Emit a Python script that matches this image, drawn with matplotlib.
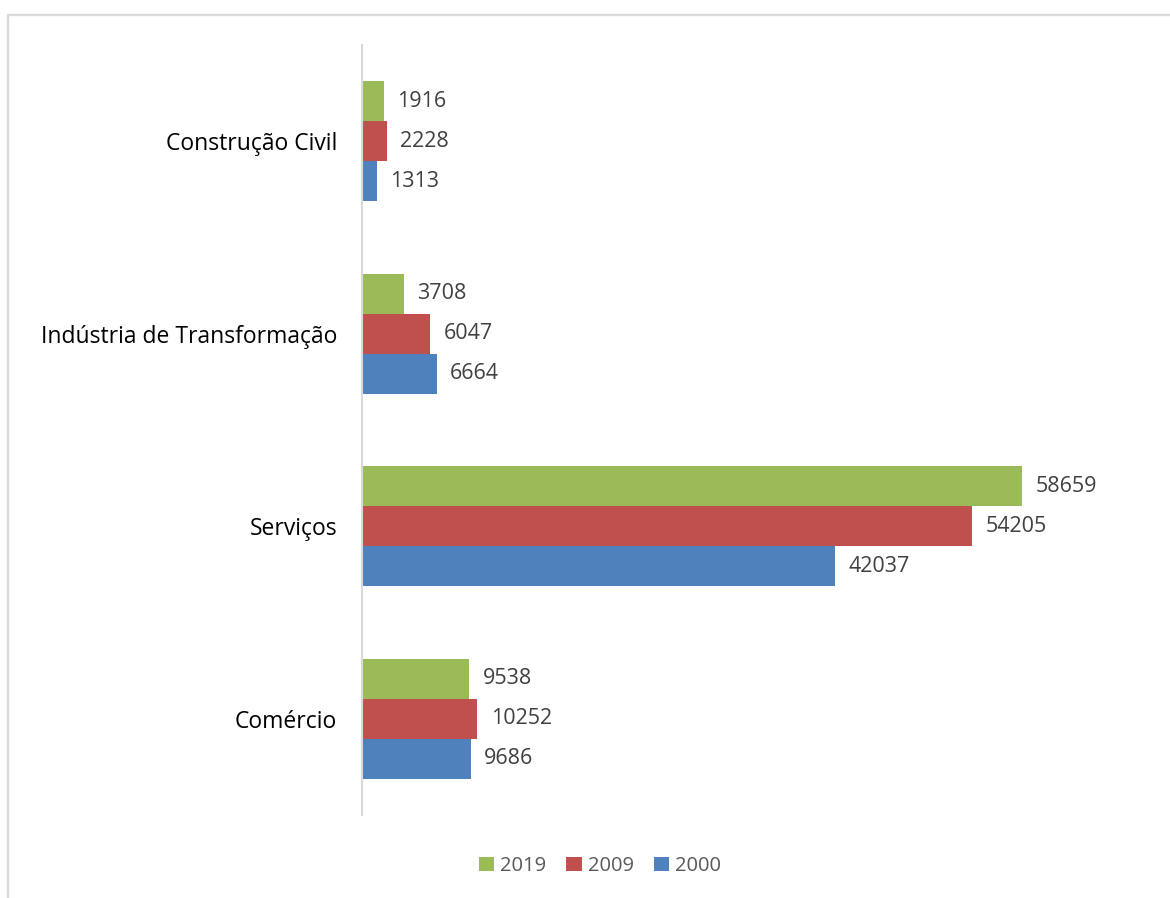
import numpy as np
import matplotlib.pyplot as plt
from matplotlib.patches import Rectangle

categories = ["Comércio", "Serviços", "Indústria de Transformação", "Construção Civil"]
years = ["2000", "2009", "2019"]
v2000 = [9686, 42037, 6664, 1313]
v2009 = [10252, 54205, 6047, 2228]
v2019 = [9538, 58659, 3708, 1916]
colors = ["#4F81BD", "#C0504D", "#9BBB59"]

plt.rcParams['font.family'] = ['Open Sans', 'DejaVu Sans']

fig = plt.figure(figsize=(11.7, 8.98), dpi=100)
W, H = 1170, 898
ax = fig.add_axes([362 / W, 1 - 815 / H, (1150 - 362) / W, (815 - 45) / H])

# moldura cinza do gráfico
fig.patches.append(Rectangle((8 / W, -0.1), 1.2, 1 - 15 / H + 0.1, transform=fig.transFigure,
                             fill=False, edgecolor="#D9D9D9", linewidth=1.6))

y = np.arange(len(categories))
h = 0.208
series = [v2000, v2009, v2019]
for i, (vals, c, yr) in enumerate(zip(series, colors, years)):
    pos = y + (i - 1) * h
    ax.barh(pos, vals, height=h, color=c, label=yr)
    for p, v in zip(pos, vals):
        ax.annotate(str(v), (v, p), xytext=(9.5, 0), textcoords="offset points",
                    va="center", ha="left", fontsize=15.5, color="#404040")

ax.set_xlim(0, 70000)
ax.set_ylim(-0.5, len(categories) - 0.5)
ax.set_yticks(y)
ax.set_yticklabels(categories, fontsize=16.5, color="#000000")
ax.tick_params(axis="y", length=0, pad=18)
ax.set_xticks([])
for s in ["top", "right", "bottom"]:
    ax.spines[s].set_visible(False)
ax.spines["left"].set_color("#D9D9D9")
ax.spines["left"].set_linewidth(1.5)

handles, labels = ax.get_legend_handles_labels()
fig.legend(handles[::-1], labels[::-1], loc="center", bbox_to_anchor=(600 / W, 1 - 866 / H),
           ncol=3, frameon=False, fontsize=14.5, handlelength=0.75, handleheight=0.75,
           handletextpad=0.3, columnspacing=1.0, labelcolor="#595959")

fig.savefig("out.png", dpi=100)
